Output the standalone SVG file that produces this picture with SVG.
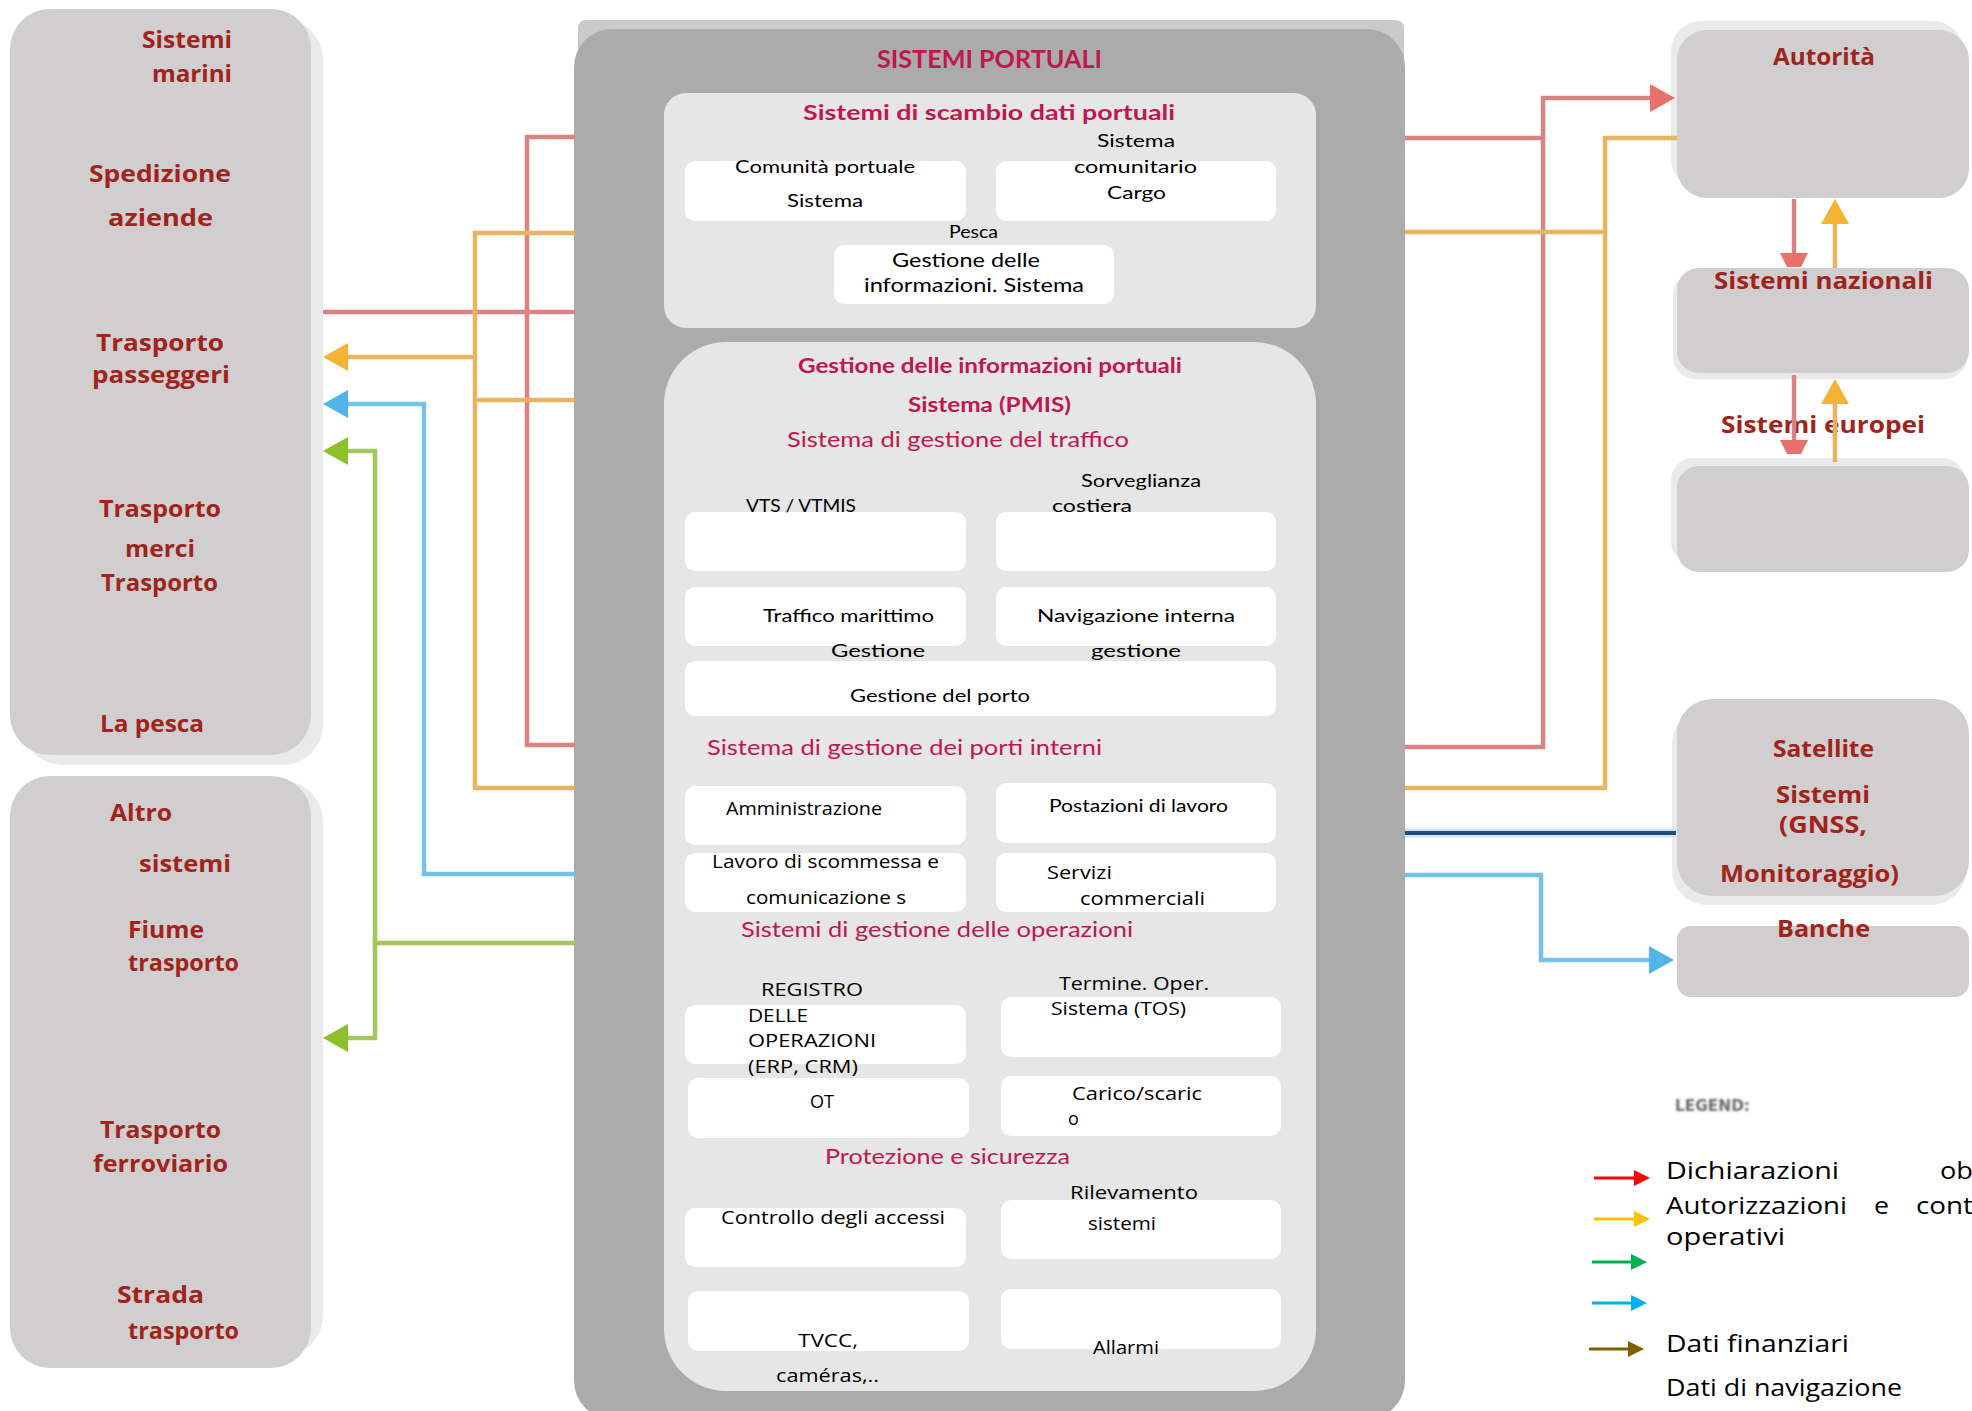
<svg xmlns="http://www.w3.org/2000/svg" width="1972" height="1411" viewBox="0 0 1972 1411">
<defs>
<style>
.bg{fill:#FFFFFF}
.ext{fill:#D0CECF}
.shd{fill:#EAEAEA}
.port{fill:#ABABAB}
.portshd{fill:#CACACA}
.pane{fill:#E6E6E6}
.cell{fill:#FFFFFF}
.lbl{font-family:"Open Sans",Lato,sans-serif;font-weight:700;font-size:24px;fill:#A1231B}
.ttl{font-family:Lato,"Open Sans",sans-serif;font-weight:700;font-size:21px;fill:#C0174C}
.big{font-size:25px}
.sec{font-family:Lato,"Open Sans",sans-serif;font-weight:400;font-size:22px;fill:#C0174C}
.txt{font-family:Lato,"Open Sans",sans-serif;font-size:18px;fill:#000000}
.txt19{font-size:19px}
.txo{font-family:"Open Sans",Lato,sans-serif;font-size:18px;fill:#000000}
.leg{font-family:"Open Sans",Lato,sans-serif;font-size:23px;fill:#000000}
.legtitle{font-family:"DejaVu Sans",sans-serif;font-weight:700;font-size:15px;fill:#6A6A6A}
.ln{fill:none;stroke-width:4.5;stroke-linejoin:miter}
.red{stroke:#D98483}
.org{stroke:#E9B45F}
.blu{stroke:#74C2EA}
.grn{stroke:#A2C75C}
.navy{fill:none;stroke:#1F4E79;stroke-width:4}
.halo{fill:none;stroke:#CFE3F3;stroke-width:9}
.lg{fill:none;stroke-width:3}
</style>
<marker id="m-red" viewBox="0 0 25 28" markerWidth="25" markerHeight="28" refX="0" refY="14" orient="auto" markerUnits="userSpaceOnUse"><path d="M0,0L25,14L0,28Z" fill="#E8716C"/></marker>
<marker id="m-red-cut" viewBox="0 0 14 28" markerWidth="14" markerHeight="28" refX="0" refY="14" orient="auto" markerUnits="userSpaceOnUse"><path d="M0,0L14,7L14,21L0,28Z" fill="#E8716C"/></marker>
<marker id="m-org" viewBox="0 0 25 28" markerWidth="25" markerHeight="28" refX="0" refY="14" orient="auto" markerUnits="userSpaceOnUse"><path d="M0,0L25,14L0,28Z" fill="#F5B335"/></marker>
<marker id="m-blu" viewBox="0 0 25 28" markerWidth="25" markerHeight="28" refX="0" refY="14" orient="auto" markerUnits="userSpaceOnUse"><path d="M0,0L25,14L0,28Z" fill="#52B5EA"/></marker>
<marker id="m-grn" viewBox="0 0 25 28" markerWidth="25" markerHeight="28" refX="0" refY="14" orient="auto" markerUnits="userSpaceOnUse"><path d="M0,0L25,14L0,28Z" fill="#8CBF2A"/></marker>
<marker id="k-red" viewBox="0 0 16 16" markerWidth="16" markerHeight="16" refX="0" refY="8" orient="auto" markerUnits="userSpaceOnUse"><path d="M0,0L16,8L0,16Z" fill="#FF0000"/></marker>
<marker id="k-org" viewBox="0 0 16 16" markerWidth="16" markerHeight="16" refX="0" refY="8" orient="auto" markerUnits="userSpaceOnUse"><path d="M0,0L16,8L0,16Z" fill="#FFC000"/></marker>
<marker id="k-grn" viewBox="0 0 16 16" markerWidth="16" markerHeight="16" refX="0" refY="8" orient="auto" markerUnits="userSpaceOnUse"><path d="M0,0L16,8L0,16Z" fill="#00B050"/></marker>
<marker id="k-blu" viewBox="0 0 16 16" markerWidth="16" markerHeight="16" refX="0" refY="8" orient="auto" markerUnits="userSpaceOnUse"><path d="M0,0L16,8L0,16Z" fill="#00B0F0"/></marker>
<marker id="k-brn" viewBox="0 0 16 16" markerWidth="16" markerHeight="16" refX="0" refY="8" orient="auto" markerUnits="userSpaceOnUse"><path d="M0,0L16,8L0,16Z" fill="#7F6000"/></marker>
<filter id="soft" x="-10%" y="-30%" width="120%" height="160%"><feGaussianBlur stdDeviation="0.8"/></filter>
</defs>

<rect class="bg" x="0" y="0" width="1972" height="1411"/>

<!-- left column: maritime and transport actors -->
<g id="node-sistemi-marini">
<rect class="shd" x="22" y="19" width="301" height="746" rx="40"/>
<rect class="ext" x="10" y="9" width="301" height="746" rx="40"/>
<text class="lbl" x="142" y="48" textLength="90" lengthAdjust="spacingAndGlyphs">Sistemi</text>
<text class="lbl" x="152" y="82" textLength="80" lengthAdjust="spacingAndGlyphs">marini</text>
<text class="lbl" x="89" y="182" textLength="142" lengthAdjust="spacingAndGlyphs">Spedizione</text>
<text class="lbl" x="108" y="226" textLength="105" lengthAdjust="spacingAndGlyphs">aziende</text>
<text class="lbl" x="96" y="351" textLength="128" lengthAdjust="spacingAndGlyphs">Trasporto</text>
<text class="lbl" x="92" y="383" textLength="138" lengthAdjust="spacingAndGlyphs">passeggeri</text>
<text class="lbl" x="99" y="517" textLength="122" lengthAdjust="spacingAndGlyphs">Trasporto</text>
<text class="lbl" x="125" y="557" textLength="70" lengthAdjust="spacingAndGlyphs">merci</text>
<text class="lbl" x="101" y="591" textLength="117" lengthAdjust="spacingAndGlyphs">Trasporto</text>
<text class="lbl" x="100" y="732" textLength="104" lengthAdjust="spacingAndGlyphs">La pesca</text>
</g>

<g id="node-altri-sistemi">
<rect class="shd" x="22" y="781" width="301" height="575" rx="40"/>
<rect class="ext" x="10" y="776" width="301" height="592" rx="40"/>
<text class="lbl" x="110" y="821" textLength="62" lengthAdjust="spacingAndGlyphs">Altro</text>
<text class="lbl" x="139" y="872" textLength="92" lengthAdjust="spacingAndGlyphs">sistemi</text>
<text class="lbl" x="128" y="938" textLength="76" lengthAdjust="spacingAndGlyphs">Fiume</text>
<text class="lbl" x="128" y="971" textLength="111" lengthAdjust="spacingAndGlyphs">trasporto</text>
<text class="lbl" x="100" y="1138" textLength="121" lengthAdjust="spacingAndGlyphs">Trasporto</text>
<text class="lbl" x="93" y="1172" textLength="135" lengthAdjust="spacingAndGlyphs">ferroviario</text>
<text class="lbl" x="117" y="1303" textLength="87" lengthAdjust="spacingAndGlyphs">Strada</text>
<text class="lbl" x="128" y="1339" textLength="111" lengthAdjust="spacingAndGlyphs">trasporto</text>
</g>

<!-- central block: port systems -->
<g id="node-sistemi-portuali">
<rect class="portshd" x="578" y="20" width="826" height="200" rx="8"/>
<rect class="port" x="574" y="29" width="831" height="1390" rx="38"/>
<text class="ttl big" x="877" y="68" textLength="225" lengthAdjust="spacingAndGlyphs">SISTEMI PORTUALI</text>

<g id="node-scambio-dati">
<rect class="pane" x="664" y="93" width="652" height="235" rx="22"/>
<text class="ttl" x="803" y="120" textLength="372" lengthAdjust="spacingAndGlyphs">Sistemi di scambio dati portuali</text>
<g id="node-pcs">
<rect class="cell" x="685" y="161" width="281" height="60" rx="10"/>
<text class="txt" x="735" y="173" textLength="180" lengthAdjust="spacingAndGlyphs">Comunità portuale</text>
<text class="txt" x="787" y="207" textLength="76" lengthAdjust="spacingAndGlyphs">Sistema</text>
</g>
<g id="node-ccs">
<rect class="cell" x="996" y="161" width="280" height="60" rx="10"/>
<text class="txt" x="1097" y="147" textLength="78" lengthAdjust="spacingAndGlyphs">Sistema</text>
<text class="txt" x="1074" y="173" textLength="123" lengthAdjust="spacingAndGlyphs">comunitario</text>
<text class="txt" x="1107" y="199" textLength="59" lengthAdjust="spacingAndGlyphs">Cargo</text>
</g>
<g id="node-pesca">
<rect class="cell" x="834" y="245" width="280" height="59" rx="10"/>
<text class="txt" x="949" y="238" textLength="49" lengthAdjust="spacingAndGlyphs">Pesca</text>
<text class="txt txt19" x="892" y="267" textLength="148" lengthAdjust="spacingAndGlyphs">Gestione delle</text>
<text class="txt txt19" x="864" y="292" textLength="220" lengthAdjust="spacingAndGlyphs">informazioni. Sistema</text>
</g>
</g>

<g id="node-pmis">
<rect class="pane" x="664" y="342" width="652" height="1049" rx="62"/>
<text class="ttl" x="798" y="373" textLength="384" lengthAdjust="spacingAndGlyphs">Gestione delle informazioni portuali</text>
<text class="ttl" x="908" y="412" textLength="163" lengthAdjust="spacingAndGlyphs">Sistema (PMIS)</text>

<text class="sec" x="787" y="447" textLength="342" lengthAdjust="spacingAndGlyphs">Sistema di gestione del traffico</text>
<g id="node-porto">
<rect class="cell" x="685" y="661" width="591" height="55" rx="10"/>
<text class="txt" x="850" y="702" textLength="180" lengthAdjust="spacingAndGlyphs">Gestione del porto</text>
</g>
<g id="node-vts">
<rect class="cell" x="685" y="512" width="281" height="59" rx="10"/>
<text class="txt" x="746" y="512" textLength="110" lengthAdjust="spacingAndGlyphs">VTS / VTMIS</text>
</g>
<g id="node-sorveglianza">
<rect class="cell" x="996" y="512" width="280" height="59" rx="10"/>
<text class="txt" x="1081" y="487" textLength="120" lengthAdjust="spacingAndGlyphs">Sorveglianza</text>
<text class="txt" x="1052" y="512" textLength="80" lengthAdjust="spacingAndGlyphs">costiera</text>
</g>
<g id="node-traffico">
<rect class="cell" x="685" y="587" width="281" height="59" rx="10"/>
<text class="txt" x="763" y="622" textLength="171" lengthAdjust="spacingAndGlyphs">Traffico marittimo</text>
<text class="txt" x="831" y="657" textLength="94" lengthAdjust="spacingAndGlyphs">Gestione</text>
</g>
<g id="node-navigazione">
<rect class="cell" x="996" y="587" width="280" height="59" rx="10"/>
<text class="txt" x="1037" y="622" textLength="198" lengthAdjust="spacingAndGlyphs">Navigazione interna</text>
<text class="txt" x="1091" y="657" textLength="90" lengthAdjust="spacingAndGlyphs">gestione</text>
</g>

<text class="sec" x="707" y="755" textLength="395" lengthAdjust="spacingAndGlyphs">Sistema di gestione dei porti interni</text>
<g id="node-amministrazione">
<rect class="cell" x="685" y="786" width="281" height="59" rx="10"/>
<text class="txo" x="726" y="815" textLength="156" lengthAdjust="spacingAndGlyphs">Amministrazione</text>
</g>
<g id="node-postazioni">
<rect class="cell" x="996" y="783" width="280" height="60" rx="10"/>
<text class="txt" x="1049" y="812" textLength="179" lengthAdjust="spacingAndGlyphs">Postazioni di lavoro</text>
</g>
<g id="node-lavoro">
<rect class="cell" x="685" y="853" width="281" height="59" rx="10"/>
<text class="txo" x="712" y="868" textLength="227" lengthAdjust="spacingAndGlyphs">Lavoro di scommessa e</text>
<text class="txo" x="746" y="904" textLength="160" lengthAdjust="spacingAndGlyphs">comunicazione s</text>
</g>
<g id="node-servizi">
<rect class="cell" x="996" y="853" width="280" height="59" rx="10"/>
<text class="txo" x="1047" y="879" textLength="65" lengthAdjust="spacingAndGlyphs">Servizi</text>
<text class="txo" x="1080" y="905" textLength="125" lengthAdjust="spacingAndGlyphs">commerciali</text>
</g>

<text class="sec" x="741" y="937" textLength="392" lengthAdjust="spacingAndGlyphs">Sistemi di gestione delle operazioni</text>
<g id="node-registro">
<rect class="cell" x="685" y="1005" width="281" height="59" rx="10"/>
<text class="txo" x="761" y="996" textLength="102" lengthAdjust="spacingAndGlyphs">REGISTRO</text>
<text class="txo" x="748" y="1022" textLength="60" lengthAdjust="spacingAndGlyphs">DELLE</text>
<text class="txo" x="748" y="1047" textLength="128" lengthAdjust="spacingAndGlyphs">OPERAZIONI</text>
<text class="txo" x="748" y="1073" textLength="110" lengthAdjust="spacingAndGlyphs">(ERP, CRM)</text>
</g>
<g id="node-tos">
<rect class="cell" x="1001" y="997" width="280" height="60" rx="10"/>
<text class="txo" x="1059" y="990" textLength="150" lengthAdjust="spacingAndGlyphs">Termine. Oper.</text>
<text class="txo" x="1051" y="1015" textLength="135" lengthAdjust="spacingAndGlyphs">Sistema (TOS)</text>
</g>
<g id="node-ot">
<rect class="cell" x="688" y="1078" width="281" height="60" rx="10"/>
<text class="txo" x="810" y="1108" textLength="24" lengthAdjust="spacingAndGlyphs">OT</text>
</g>
<g id="node-carico">
<rect class="cell" x="1001" y="1076" width="280" height="60" rx="10"/>
<text class="txo" x="1072" y="1100" textLength="130" lengthAdjust="spacingAndGlyphs">Carico/scaric</text>
<text class="txo" x="1068" y="1125">o</text>
</g>

<text class="sec" x="825" y="1164" textLength="245" lengthAdjust="spacingAndGlyphs">Protezione e sicurezza</text>
<g id="node-accessi">
<rect class="cell" x="685" y="1208" width="281" height="59" rx="10"/>
<text class="txo" x="721" y="1224" textLength="224" lengthAdjust="spacingAndGlyphs">Controllo degli accessi</text>
</g>
<g id="node-rilevamento">
<rect class="cell" x="1001" y="1200" width="280" height="59" rx="10"/>
<text class="txo" x="1070" y="1199" textLength="128" lengthAdjust="spacingAndGlyphs">Rilevamento</text>
<text class="txo" x="1088" y="1230" textLength="68" lengthAdjust="spacingAndGlyphs">sistemi</text>
</g>
<g id="node-tvcc">
<rect class="cell" x="688" y="1291" width="281" height="60" rx="10"/>
<text class="txo" x="798" y="1347" textLength="60" lengthAdjust="spacingAndGlyphs">TVCC,</text>
<text class="txo" x="776" y="1382" textLength="103" lengthAdjust="spacingAndGlyphs">caméras,..</text>
</g>
<g id="node-allarmi">
<rect class="cell" x="1001" y="1289" width="280" height="60" rx="10"/>
<text class="txo" x="1093" y="1354" textLength="66" lengthAdjust="spacingAndGlyphs">Allarmi</text>
</g>
</g>
</g>

<!-- right column: authorities and external services -->
<g id="node-autorita">
<rect class="shd" x="1671" y="21" width="292" height="168" rx="30"/>
<rect class="ext" x="1677" y="30" width="292" height="168" rx="30"/>
<text class="lbl" x="1773" y="65" textLength="102" lengthAdjust="spacingAndGlyphs">Autorità</text>
</g>
<g id="node-sistemi-nazionali">
<rect class="shd" x="1673" y="273" width="294" height="106" rx="22"/>
<rect class="ext" x="1677" y="268" width="292" height="105" rx="22"/>
<text class="lbl" x="1714" y="289" textLength="219" lengthAdjust="spacingAndGlyphs">Sistemi nazionali</text>
</g>
<g id="node-sistemi-europei">
<rect class="shd" x="1671" y="458" width="294" height="106" rx="22"/>
<rect class="ext" x="1677" y="466" width="292" height="106" rx="22"/>
<text class="lbl" x="1721" y="433" textLength="204" lengthAdjust="spacingAndGlyphs">Sistemi europei</text>
</g>
<g id="node-satellite">
<rect class="shd" x="1672" y="709" width="294" height="196" rx="35"/>
<rect class="ext" x="1677" y="699" width="292" height="197" rx="35"/>
<text class="lbl" x="1773" y="757" textLength="101" lengthAdjust="spacingAndGlyphs">Satellite</text>
<text class="lbl" x="1776" y="803" textLength="94" lengthAdjust="spacingAndGlyphs">Sistemi</text>
<text class="lbl" x="1779" y="833" textLength="88" lengthAdjust="spacingAndGlyphs">(GNSS,</text>
<text class="lbl" x="1720" y="882" textLength="179" lengthAdjust="spacingAndGlyphs">Monitoraggio)</text>
</g>
<g id="node-banche">
<rect class="ext" x="1677" y="926" width="292" height="71" rx="14"/>
<text class="lbl" x="1777" y="937" textLength="93" lengthAdjust="spacingAndGlyphs">Banche</text>
</g>

<!-- data flows -->
<g id="connectors">
<!-- declarations (red) -->
<path class="ln red" d="M575,137H527V745H575"/>
<path class="ln red" d="M575,312H323"/>
<path class="ln red" d="M1405,138H1543"/>
<path class="ln red" d="M1405,747H1543V98H1650" marker-end="url(#m-red)"/>
<path class="ln red" d="M1794,199V253" marker-end="url(#m-red-cut)"/>
<path class="ln red" d="M1794,375V440" marker-end="url(#m-red-cut)"/>
<!-- authorisations and operating controls (orange) -->
<path class="ln org" d="M575,233H475V788H575"/>
<path class="ln org" d="M475,357H348" marker-end="url(#m-org)"/>
<path class="ln org" d="M575,400H475"/>
<path class="ln org" d="M1405,232H1605"/>
<path class="ln org" d="M1405,788H1605V138H1677"/>
<path class="ln org" d="M1835,268V224" marker-end="url(#m-org)"/>
<path class="ln org" d="M1835,462V404" marker-end="url(#m-org)"/>
<!-- blue flows -->
<path class="ln blu" d="M575,874H424V404H348" marker-end="url(#m-blu)"/>
<path class="ln blu" d="M1405,875H1541V960H1649" marker-end="url(#m-blu)"/>
<!-- green flows -->
<path class="ln grn" d="M575,943H375V451H348" marker-end="url(#m-grn)"/>
<path class="ln grn" d="M375,943V1038H348" marker-end="url(#m-grn)"/>
<!-- navigation data (navy) -->
<path class="halo" d="M1405,833H1676"/>
<path class="navy" d="M1405,833H1676"/>
</g>

<!-- key -->
<g id="legend">
<text class="legtitle" x="1675" y="1111" textLength="75" lengthAdjust="spacingAndGlyphs" filter="url(#soft)">LEGEND:</text>
<path class="lg" stroke="#FF0000" d="M1594,1178H1634" marker-end="url(#k-red)"/>
<path class="lg" stroke="#FFC000" d="M1594,1219H1634" marker-end="url(#k-org)"/>
<path class="lg" stroke="#00B050" d="M1592,1262H1631" marker-end="url(#k-grn)"/>
<path class="lg" stroke="#00B0F0" d="M1592,1303H1631" marker-end="url(#k-blu)"/>
<path class="lg" stroke="#7F6000" d="M1589,1349H1628" marker-end="url(#k-brn)"/>
<text class="leg" x="1666" y="1179" textLength="173" lengthAdjust="spacingAndGlyphs">Dichiarazioni</text>
<text class="leg" x="1940" y="1179" textLength="33" lengthAdjust="spacingAndGlyphs">ob</text>
<text class="leg" x="1666" y="1214" textLength="181" lengthAdjust="spacingAndGlyphs">Autorizzazioni</text>
<text class="leg" x="1874" y="1214" textLength="15" lengthAdjust="spacingAndGlyphs">e</text>
<text class="leg" x="1916" y="1214" textLength="57" lengthAdjust="spacingAndGlyphs">cont</text>
<text class="leg" x="1666" y="1245" textLength="119" lengthAdjust="spacingAndGlyphs">operativi</text>
<text class="leg" x="1666" y="1352" textLength="183" lengthAdjust="spacingAndGlyphs">Dati finanziari</text>
<text class="leg" x="1666" y="1396" textLength="236" lengthAdjust="spacingAndGlyphs">Dati di navigazione</text>
</g>
</svg>
